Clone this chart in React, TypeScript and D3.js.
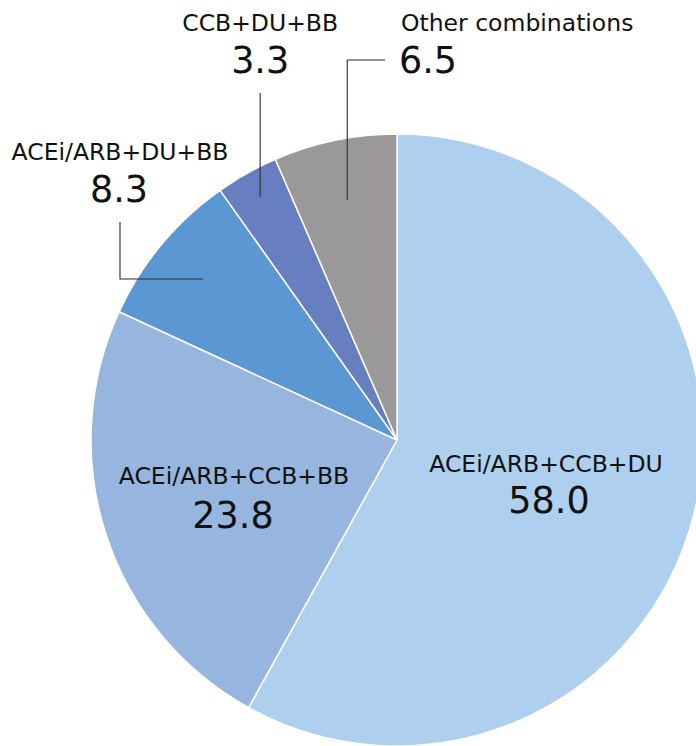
import { useEffect, useRef } from 'react'
import * as d3 from 'd3'

const categories = [
  'ACEi/ARB+CCB+DU',
  'ACEi/ARB+CCB+BB',
  'ACEi/ARB+DU+BB',
  'CCB+DU+BB',
  'Other combinations',
]
const values = [58.0, 23.8, 8.3, 3.3, 6.5]
const colors = ['#afcfee', '#96b6e0', '#5b97d3', '#677fc0', '#9a9899']

const W = 696
const H = 746
const FONT = '"DejaVu Sans", sans-serif'
const LABEL_SIZE = '23.5px'
const VALUE_SIZE = '36.5px'

export default function App() {
  const ref = useRef<SVGSVGElement>(null)

  useEffect(() => {
    const svg = d3.select(ref.current)
    svg.selectAll('*').remove()

    const cx = 397
    const cy = 440
    const radius = 306

    const data = categories.map((name, i) => ({ name, value: values[i], color: colors[i] }))
    const pie = d3
      .pie<any>()
      .sort(null)
      .value((d) => d.value)
    const arcs = pie(data)

    const arc = d3.arc<any>().innerRadius(0).outerRadius(radius)

    const g = svg.append('g').attr('transform', `translate(${cx},${cy})`)

    g.selectAll('path.slice')
      .data(arcs)
      .enter()
      .append('path')
      .attr('class', 'slice')
      .attr('d', arc)
      .attr('fill', (d) => d.data.color)
      .attr('stroke', '#fff')
      .attr('stroke-width', 1.5)
      .attr('stroke-linejoin', 'round')

    // point on the middle angle of a slice, at distance r from the centre
    const pointAt = (d: any, r: number) => {
      const a = (d.startAngle + d.endAngle) / 2
      return [Math.sin(a) * r, -Math.cos(a) * r]
    }

    const label = (x: number, y: number, txt: string, anchor = 'middle') =>
      svg
        .append('text')
        .attr('x', x)
        .attr('y', y)
        .attr('text-anchor', anchor)
        .attr('fill', '#111')
        .style('font-family', FONT)
        .style('font-size', LABEL_SIZE)
        .text(txt)

    const value = (x: number, y: number, v: number, anchor = 'middle') =>
      svg
        .append('text')
        .attr('x', x)
        .attr('y', y)
        .attr('text-anchor', anchor)
        .attr('fill', '#111')
        .style('font-family', FONT)
        .style('font-size', VALUE_SIZE)
        .text(v.toFixed(1))

    const leader = (d: string) =>
      g
        .append('path')
        .attr('d', d)
        .attr('fill', 'none')
        .attr('stroke', '#2b2b2b')
        .attr('stroke-width', 1.1)

    // labels inside the two big slices
    label(546, 472, categories[0])
    value(549, 513, values[0])
    label(234, 484, categories[1])
    value(233, 528, values[1])

    // ACEi/ARB+DU+BB : elbow leader going up-left
    {
      const [px, py] = pointAt(arcs[2], 252)
      leader(`M${px},${py}H${120 - cx}V${222 - cy}`)
      label(120, 160, categories[2])
      value(119, 202, values[2])
    }

    // CCB+DU+BB : straight vertical leader
    {
      const [px, py] = pointAt(arcs[3], 279)
      leader(`M${px},${py}V${93 - cy}`)
      label(px + cx, 31, categories[3])
      value(px + cx, 73, values[3])
    }

    // Other combinations : elbow leader going up-right
    {
      const [px, py] = pointAt(arcs[4], 245)
      leader(`M${px},${py}V${60 - cy}H${385 - cx}`)
      label(401, 31, categories[4], 'start')
      value(399, 73, values[4], 'start')
    }
  }, [])

  return (
    <svg
      ref={ref}
      width={W}
      height={H}
      style={{ position: 'absolute', left: 0, top: 0, background: '#fff' }}
    />
  )
}
